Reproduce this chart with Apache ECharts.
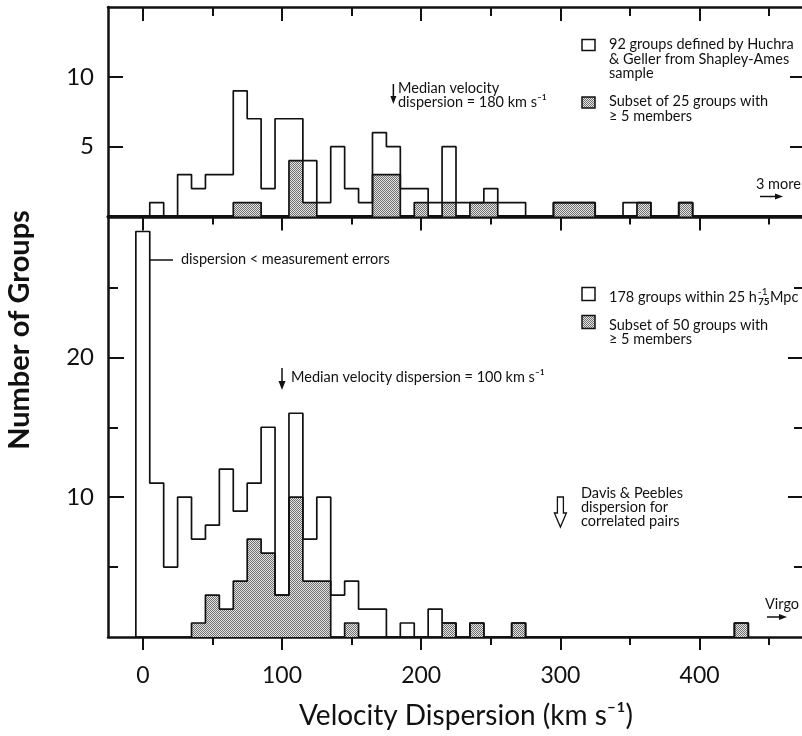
<!DOCTYPE html>
<html><head><meta charset="utf-8">
<script src="https://cdn.jsdelivr.net/npm/echarts@6/dist/echarts.min.js"></script>
<style>html,body{margin:0;padding:0;background:#fff}#c{width:802px;height:736px}</style>
</head><body><div id="c"></div>
<script>
// ---------- data ----------
const BIN_WIDTH = 10;
// Upper panel: 92 Huchra & Geller groups (Shapley-Ames sample)
const topBinCenters   = [10,20,30,40,50,60,70,80,90,100,110,120,130,140,150,160,170,180,190,200,210,220,230,240,250,260,270,280,290,300,310,320,330,340,350,360,370,380,390];
const topAllGroups    = [1,0,3,2,3,3,9,7,2,7,7,4,1,5,2,1,6,5,2,2,1,5,1,1,2,1,1,0,0,1,1,1,0,0,1,1,0,0,1];
const topSubsetGroups = [0,0,0,0,0,0,1,1,0,0,4,1,0,0,0,0,3,3,0,1,0,1,0,1,1,0,0,0,0,1,1,1,0,0,0,1,0,0,1];
// Lower panel: 178 groups within 25 h^-1 Mpc
const bottomBinCenters   = [0,10,20,30,40,50,60,70,80,90,100,110,120,130,140,150,160,170,180,190,200,210,220,230,240,250,260,270,280,290,300,310,320,330,340,350,360,370,380,390,400,410,420,430];
const bottomAllGroups    = [29,11,5,10,7,8,12,9,11,15,3,16,7,10,3,4,2,2,0,1,0,2,1,0,1,0,0,1,0,0,0,0,0,0,0,0,0,0,0,0,0,0,0,1];
const bottomSubsetGroups = [0,0,0,0,1,3,2,4,7,6,3,10,4,4,0,1,0,0,0,0,0,0,1,0,1,0,0,1,0,0,0,0,0,0,0,0,0,0,0,0,0,0,0,1];
// ticks
const xMajorTicks = [0,100,200,300,400];
const xMinorTicks = [50,150,250,350,450];
const topYTicks = [5,10];
const bottomYMajorTicks = [10,20];
const bottomYMinorTicks = [5,15,25];
// annotated values
const medianTop = 180, medianBottom = 100, davisPeeblesValue = 300;

// ---------- helpers ----------
const FONT = 'Lato, "Noto Sans", sans-serif';
const INK = '#111';
const ANN = 14.5;

function stepPoints(centers, counts) {
  const h = BIN_WIDTH / 2;
  const pts = [[centers[0] - h, 0]];
  centers.forEach((c, i) => pts.push([c - h, counts[i]]));
  pts.push([centers[centers.length - 1] + h, 0]);
  return pts;
}
function makeHatch() {
  const c = document.createElement('canvas');
  c.width = 2; c.height = 2;
  const g = c.getContext('2d');
  g.fillStyle = '#e6e6e6'; g.fillRect(0, 0, 2, 2);
  g.fillStyle = '#6e6e6e'; g.fillRect(0, 0, 1, 1); g.fillRect(1, 1, 1, 1);
  return c;
}
const hatch = { image: makeHatch(), repeat: 'repeat' };
const measureCtx = document.createElement('canvas').getContext('2d');
function textWidth(t, font) { measureCtx.font = font; return measureCtx.measureText(t).width; }

function axisDef(gridIndex, position, o) {
  return {
    type: 'value', gridIndex, position,
    min: o.min, max: o.max,
    splitLine: { show: false },
    axisLine: { show: !!o.line, onZero: false, lineStyle: { color: INK, width: o.lineWidth || 2.5 } },
    axisTick: o.ticks ? { show: true, inside: !!o.inside, length: o.len, customValues: o.ticks, lineStyle: { color: INK, width: 2 } } : { show: false },
    axisLabel: o.labels ? { show: true, customValues: o.labels, margin: o.margin, color: INK, fontFamily: FONT, fontSize: o.fontSize } : { show: false }
  };
}
const X = { min: -25, max: 475 };
const xAxes = [
  axisDef(0, 'top',    { ...X, line: true, ticks: xMajorTicks, inside: true, len: 14 }),
  axisDef(0, 'top',    { ...X, ticks: xMinorTicks, inside: true, len: 9 }),
  axisDef(0, 'bottom', { ...X, line: true, lineWidth: 3 }),
  axisDef(1, 'bottom', { ...X, line: true, ticks: xMajorTicks, inside: false, len: 13, labels: xMajorTicks, margin: 27, fontSize: 23 }),
  axisDef(1, 'bottom', { ...X, ticks: xMinorTicks, inside: false, len: 8 }),
  axisDef(1, 'top',    { ...X, line: true, ticks: xMajorTicks, inside: true, len: 13 }),
  axisDef(1, 'top',    { ...X, ticks: xMinorTicks, inside: true, len: 7 })
];
const YT = { min: 0, max: 15 }, YB = { min: 0, max: 30 };
const yAxes = [
  axisDef(0, 'left',  { ...YT, line: true, ticks: topYTicks, inside: true, len: 15, labels: topYTicks, margin: 14, fontSize: 24 }),
  axisDef(0, 'right', { ...YT, line: true, ticks: topYTicks, inside: true, len: 14 }),
  axisDef(1, 'left',  { ...YB, line: true, ticks: bottomYMajorTicks, inside: true, len: 16, labels: bottomYMajorTicks, margin: 14, fontSize: 24 }),
  axisDef(1, 'left',  { ...YB, ticks: bottomYMinorTicks, inside: true, len: 10 }),
  axisDef(1, 'right', { ...YB, line: true, ticks: bottomYMajorTicks, inside: true, len: 16 }),
  axisDef(1, 'right', { ...YB, ticks: bottomYMinorTicks, inside: true, len: 10 })
];

function histo(name, xi, yi, centers, counts, filled, z) {
  const s = {
    name, type: 'line', xAxisIndex: xi, yAxisIndex: yi, step: 'end',
    data: stepPoints(centers, counts), symbol: 'none', silent: true, z,
    lineStyle: { color: INK, width: 1.7 }
  };
  if (filled) s.areaStyle = { color: hatch, opacity: 1 };
  return s;
}

const chart = echarts.init(document.getElementById('c'), null, { renderer: 'canvas' });
chart.setOption({
  animation: false,
  backgroundColor: '#fff',
  grid: [
    { left: 108, top: 7, width: 696, height: 209.5, outerBoundsMode: 'none', containLabel: false },
    { left: 108, top: 217.5, width: 696, height: 419.5, outerBoundsMode: 'none', containLabel: false }
  ],
  xAxis: xAxes,
  yAxis: yAxes,
  series: [
    histo('Subset of 25 groups with ≥ 5 members', 0, 0, topBinCenters, topSubsetGroups, true, 2),
    histo('92 groups defined by Huchra & Geller from Shapley-Ames sample', 0, 0, topBinCenters, topAllGroups, false, 3),
    histo('Subset of 50 groups with ≥ 5 members', 3, 2, bottomBinCenters, bottomSubsetGroups, true, 2),
    histo('178 groups within 25 h⁻¹₇₅ Mpc', 3, 2, bottomBinCenters, bottomAllGroups, false, 3)
  ]
});

// ---------- annotations ----------
function px(grid, v, y) { return chart.convertToPixel({ gridIndex: grid }, [v, y || 0]); }
function txt(t, x, y, size, extra) {
  return { type: 'text', silent: true, z: 10, style: Object.assign({
    text: t, x, y, fill: INK, font: (size || ANN) + 'px ' + FONT,
    textAlign: 'left', align: 'left', textVerticalAlign: 'middle', verticalAlign: 'middle'
  }, extra || {}) };
}
function line(x1, y1, x2, y2, w) {
  return { type: 'line', silent: true, z: 10, shape: { x1, y1, x2, y2 }, style: { stroke: INK, lineWidth: w || 1.5 } };
}
function poly(points, fill, stroke) {
  return { type: 'polygon', silent: true, z: 10, shape: { points }, style: { fill: fill, stroke: stroke || null, lineWidth: 1.3 } };
}
function box(x, y, w, h, fill) {
  return { type: 'rect', silent: true, z: 10, shape: { x, y, width: w, height: h }, style: { fill, stroke: INK, lineWidth: 1.5 } };
}

const mt = px(0, medianTop)[0];
const mb = px(1, medianBottom)[0];
const dp = px(1, davisPeeblesValue)[0];
const bar0Right = px(1, bottomBinCenters[0] + BIN_WIDTH / 2)[0];

// stacked h^-1_75 in lower legend
const legMain = '178 groups within 25 h';
const hEnd = 609 + textWidth(legMain, ANN + 'px ' + FONT);

const g = [
  // upper panel
  line(mt, 84, mt, 98), poly([[mt - 3, 96], [mt + 3, 96], [mt, 104]], INK),
  txt('Median velocity', 398, 88.5),
  txt('dispersion = 180 km s⁻¹', 398, 102.5),
  box(582, 39.5, 13, 11, '#fff'),
  txt('92 groups defined by Huchra', 609, 44.5),
  txt('& Geller from Shapley-Ames', 609, 59.5),
  txt('sample', 609, 73.5),
  box(582, 97, 13, 11, hatch),
  txt('Subset of 25 groups with', 609, 101),
  txt('≥ 5 members', 609, 116),
  txt('3 more', 756, 184),
  line(760, 196.5, 776, 196.5), poly([[775, 193.5], [783, 196.5], [775, 199.5]], INK),
  // lower panel
  line(bar0Right, 260, 173, 260),
  txt('dispersion < measurement errors', 181, 259.5),
  line(mb, 368, mb, 383), poly([[mb - 3.5, 381], [mb + 3.5, 381], [mb, 390]], INK),
  txt('Median velocity dispersion = 100 km s⁻¹', 291, 377),
  box(582, 287.5, 13, 13, '#fff'),
  txt(legMain, 609, 297),
  txt('-1', hEnd + 1, 291.5, 10),
  txt('75', hEnd + 1, 302, 10, { font: 'bold 10px ' + FONT }),
  txt('Mpc', hEnd + 13, 297),
  box(582, 315.5, 13, 13, hatch),
  txt('Subset of 50 groups with', 609, 325),
  txt('≥ 5 members', 609, 339.5),
  txt('Davis & Peebles', 581, 493),
  txt('dispersion for', 581, 507),
  txt('correlated pairs', 581, 521),
  poly([[dp - 3, 497], [dp + 3, 497], [dp + 3, 513], [dp + 6, 513], [dp, 527], [dp - 6, 513], [dp - 3, 513]], '#fff', INK),
  txt('Virgo', 765, 604),
  line(767, 617, 780, 617), poly([[779, 614], [787, 617], [779, 620]], INK),
  // axis titles
  txt('Velocity Dispersion (km s⁻¹)', 466, 716, 28, { textAlign: 'center', align: 'center' }),
  { type: 'text', silent: true, z: 10, x: 20, y: 330, rotation: Math.PI / 2,
    style: { text: 'Number of Groups', x: 0, y: 0, fill: INK, font: 'bold 29px ' + FONT,
      textAlign: 'center', align: 'center', textVerticalAlign: 'middle', verticalAlign: 'middle' } }
];
chart.setOption({ graphic: { elements: g } });
</script>
</body></html>
